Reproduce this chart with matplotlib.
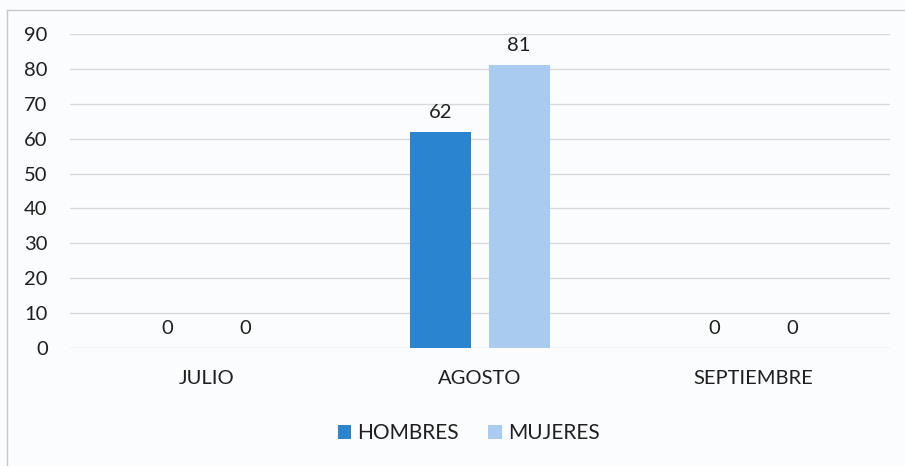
import matplotlib
matplotlib.use("Agg")
import matplotlib.pyplot as plt
import numpy as np
from matplotlib.lines import Line2D

categories = ["JULIO", "AGOSTO", "SEPTIEMBRE"]
hombres = [0, 62, 0]
mujeres = [0, 81, 0]
series_names = ["HOMBRES", "MUJERES"]
yticks = [0, 10, 20, 30, 40, 50, 60, 70, 80, 90]

plt.rcParams['font.family'] = ['Lato', 'DejaVu Sans']

fig = plt.figure(figsize=(9.05, 4.66), dpi=100)
fig.patch.set_facecolor("#fbfcfe")
ax = fig.add_axes([0.0773, 0.2532, 0.9061, 0.6738])
ax.set_facecolor("#fbfcfe")

x = np.arange(len(categories))
w = 0.223
off = 0.143
c_h = "#2a84cf"
c_m = "#a9cbf0"
txt = "#1f1f1f"
b1 = ax.bar(x - off, hombres, w, color=c_h, zorder=3, label=series_names[0])
b2 = ax.bar(x + off, mujeres, w, color=c_m, zorder=3, label=series_names[1])

for xs, vals in ((x - off, hombres), (x + off, mujeres)):
    for xi, v in zip(xs, vals):
        ax.annotate(str(v), (xi, v), xytext=(0, 8), textcoords="offset points",
                    ha="center", va="bottom", fontsize=14.5, color=txt)

ax.set_xlim(-0.5, 2.5)
ax.set_ylim(0, 90)
ax.set_yticks(yticks)
ax.set_xticks(x)
ax.set_xticklabels(categories)
ax.tick_params(axis="both", length=0, labelsize=14.5, colors=txt)
ax.tick_params(axis="y", pad=16)
ax.tick_params(axis="x", pad=16)
ax.grid(axis="y", color="#d9d9d9", linewidth=1, zorder=0)
for s in ax.spines.values():
    s.set_visible(False)

leg = fig.legend(handles=[b1, b2], loc="center", bbox_to_anchor=(0.518, 0.071),
                 ncol=2, frameon=False, fontsize=15, handlelength=0.65,
                 handleheight=0.65, handletextpad=0.3, columnspacing=1.4)
for t in leg.get_texts():
    t.set_color(txt)

# frame of the chart area
fig.add_artist(Line2D([7/905, 7/905], [0, 1 - 10/466], transform=fig.transFigure,
                      color="#c8c8c8", linewidth=1))
fig.add_artist(Line2D([7/905, 1], [1 - 10/466, 1 - 10/466], transform=fig.transFigure,
                      color="#c8c8c8", linewidth=1))

fig.savefig("out.png", dpi=100, facecolor=fig.get_facecolor())
